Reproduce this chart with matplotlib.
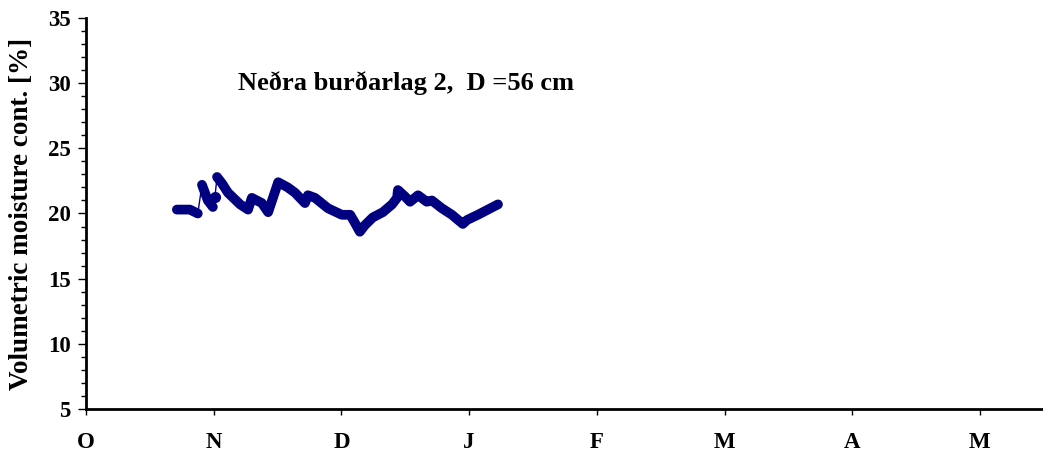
import matplotlib
matplotlib.use("Agg")
import matplotlib.pyplot as plt
import numpy as np

# Days since 1 October; volumetric moisture content [%]
seg1_days = [21.7, 24.8, 26.7]
seg1_vals = [20.3, 20.3, 20.0]
seg2_days = [27.7, 29.1, 30.3]
seg2_vals = [22.2, 21.0, 20.5]
seg3_days = [30.8]
seg3_vals = [21.3]
seg4_days = [31.3, 32.5, 33.9, 36.8, 38.7, 39.6, 42.0, 43.5, 45.9, 48.2, 49.9,
             52.3, 53.0, 54.7, 57.8, 61.1, 63.1, 64.2, 65.4, 66.6, 68.5, 70.9,
             73.1, 74.3, 74.5, 76.2, 77.4, 79.3, 81.4, 82.6, 85.0, 87.4, 90.0,
             91.0, 93.6, 96.0, 98.4]
seg4_vals = [22.8, 22.3, 21.6, 20.7, 20.3, 21.2, 20.8, 20.1, 22.4, 22.0, 21.6,
             20.8, 21.4, 21.2, 20.4, 19.9, 19.9, 19.3, 18.6, 19.1, 19.7, 20.1,
             20.7, 21.2, 21.8, 21.3, 20.9, 21.4, 20.9, 21.0, 20.4, 19.9, 19.2,
             19.5, 19.9, 20.3, 20.7]
segments = [(seg1_days, seg1_vals), (seg2_days, seg2_vals),
            (seg3_days, seg3_vals), (seg4_days, seg4_vals)]

month_labels = ["O", "N", "D", "J", "F", "M", "A", "M"]
month_step = 30.5
title_text = "Neðra burðarlag 2,  D =56 cm"
ylabel_text = "Volumetric moisture cont. [%]"

color = "#000080"
serif = ["Liberation Serif", "DejaVu Serif"]

fig = plt.figure(figsize=(10.43, 4.54), dpi=100)
ax = fig.add_axes([86 / 1043, 1 - 409 / 454, 1 - 86 / 1043, (409 - 18) / 454])

# thin connecting line through everything
all_d = [d for s in segments for d in s[0]]
all_v = [v for s in segments for v in s[1]]
ax.plot(all_d, all_v, color=color, lw=1.0, zorder=2)
for d, v in segments:
    if len(d) > 1:
        ax.plot(d, v, color=color, lw=7, solid_capstyle="round",
                solid_joinstyle="round", zorder=3)
    else:
        ax.plot(d, v, "o", color=color, ms=7, zorder=3)

ax.set_xlim(0, (1043 - 86) / 127.7 * month_step)
ax.set_ylim(5, 35)
ax.set_xticks([i * month_step for i in range(len(month_labels))])
ax.set_xticklabels(month_labels)
ax.set_yticks(np.arange(5, 36, 5))
ax.set_yticks(np.arange(5, 36, 1), minor=True)

for s in ["top", "right"]:
    ax.spines[s].set_visible(False)
for s in ["left", "bottom"]:
    ax.spines[s].set_linewidth(2.0)

ax.tick_params(axis="x", direction="out", length=4.5, width=1, pad=12)
ax.tick_params(axis="y", which="major", direction="out", length=6, width=1, pad=5)
ax.tick_params(axis="y", which="minor", direction="out", length=3.5, width=1)

for lab in ax.get_xticklabels() + ax.get_yticklabels():
    lab.set_fontfamily(serif)
    lab.set_fontweight("bold")
    lab.set_fontsize(16.5)

ax.set_ylabel(ylabel_text, family=serif, fontweight="bold", fontsize=19.5, labelpad=10)
ax.text(0.159, 0.834, title_text, transform=ax.transAxes, ha="left", va="center",
        family=serif, fontweight="bold", fontsize=19)

fig.savefig("out.png", dpi=100)
